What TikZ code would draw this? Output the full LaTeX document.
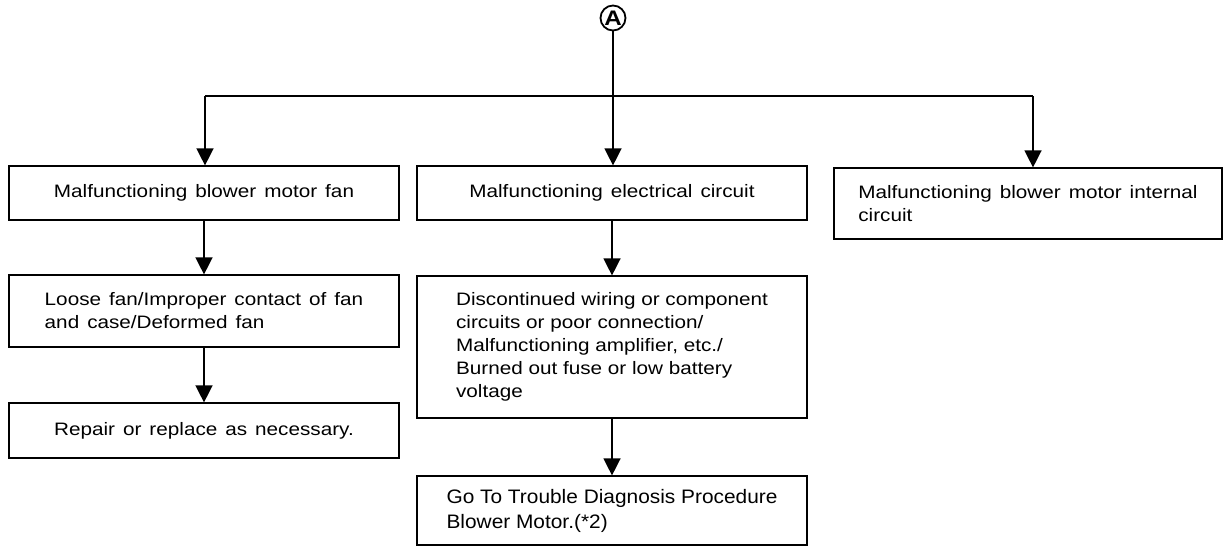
\documentclass[tikz,border=0pt]{standalone}
\usepackage{fontspec}
\setmainfont[FakeStretch=1.15]{Liberation Sans}
\newfontfamily\gofont[FakeStretch=1.07]{Liberation Sans}
\usetikzlibrary{arrows.meta}

\tikzset{
  box/.style={draw, line width=1.2pt, inner sep=0pt, align=left,
    font=\fontsize{18}{23}\selectfont},
  gap/.style={execute at begin node={\spaceskip=#1\relax}},
  link/.style={line width=1.4pt},
  flow/.style={link, -{Triangle[length=17pt,width=17pt]}}
}

\begin{document}
\begin{tikzpicture}[x=1pt, y=-1pt]
    \useasboundingbox (0,0) rectangle (1224,547);

    % start mark
    \node[draw, circle, line width=1.8pt, minimum size=25pt, inner sep=0pt,
          font=\fontsize{21}{21}\selectfont\bfseries] (A) at (613,18) {A};

    % first row of causes
    \node[box, gap=8pt, minimum width=390pt, minimum height=54pt] (fan) at (204,193)
        {Malfunctioning blower motor fan};
    \node[box, gap=8pt, minimum width=390pt, minimum height=54pt] (elec) at (612,193)
        {Malfunctioning electrical circuit};
    \node[box, gap=8pt, minimum width=388pt, minimum height=71pt] (internal) at (1028,203.5)
        {Malfunctioning blower motor internal\\circuit};

    % details and remedies
    \node[box, gap=8pt, minimum width=390pt, minimum height=72pt] (loose) at (204,311)
        {Loose fan/Improper contact of fan\\and case/Deformed fan};
    \node[box, gap=8pt, minimum width=390pt, minimum height=55pt] (repair) at (204,430.5)
        {Repair or replace as necessary.};
    \node[box, minimum width=390pt, minimum height=142pt] (wiring) at (612,347)
        {Discontinued wiring or component\\circuits or poor connection/\\Malfunctioning amplifier, etc./\\Burned out fuse or low battery\\voltage};
    \node[box, minimum width=390pt, minimum height=69pt,
          font=\gofont\fontsize{19.5}{25}\selectfont] (goto) at (612,510.5)
        {Go To Trouble Diagnosis Procedure\\Blower Motor.(*2)};

    % branch from A
    \coordinate (split) at (613,96);
    \coordinate (bL) at (205,96);
    \coordinate (bR) at (1033,96);
    \draw[link] (A) -- (split);
    \draw[link] (bL) -- (bR);
    \draw[flow] (bL) -- (bL |- fan.north);
    \draw[flow] (split) -- (split |- elec.north);
    \draw[flow] (bR) -- (bR |- internal.north);

    % down the columns
    \draw[flow] (fan.south) -- (loose.north);
    \draw[flow] (loose.south) -- (repair.north);
    \draw[flow] (elec.south) -- (wiring.north);
    \draw[flow] (wiring.south) -- (goto.north);

\end{tikzpicture}
\end{document}
